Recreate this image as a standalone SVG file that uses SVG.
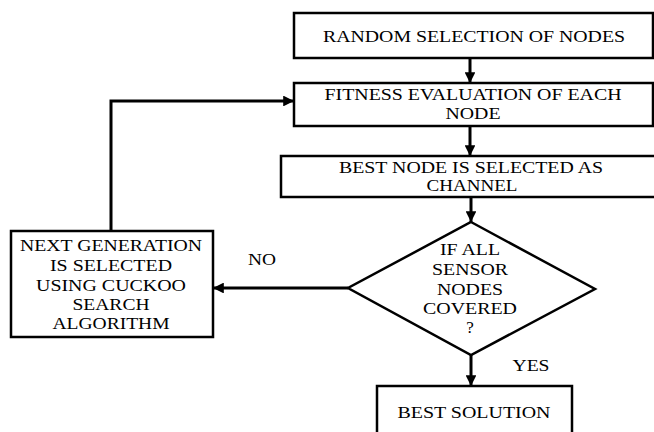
<svg xmlns="http://www.w3.org/2000/svg" width="654" height="432" viewBox="0 0 654 432">
<defs>
<marker id="ah" viewBox="0 0 10 10" refX="10" refY="5" markerWidth="3.6" markerHeight="3.6" orient="auto" markerUnits="strokeWidth">
<path d="M0,0 L10,5 L0,10 z" fill="#000"/>
</marker>
</defs>
<style>
.box{fill:#fff;stroke:#000;stroke-width:2.5}
.t{font-family:'Liberation Serif','Times New Roman',serif;font-size:17px;fill:#000;text-anchor:middle}
.c{fill:none;stroke:#000;stroke-width:3;marker-end:url(#ah)}
</style>
<rect width="654" height="432" fill="#fff"/>
<g id="connectors">
<path class="c" d="M470,58 V83"/>
<path class="c" d="M470,126 V156"/>
<path class="c" d="M471,197 V222"/>
<path class="c" d="M471,355 V386"/>
<path class="c" d="M348,288 H213"/>
<path class="c" d="M111,231 V101 H294"/>
</g>
<g id="n1">
<rect class="box" x="294" y="13" width="359" height="45"/>
<text class="t" x="474" y="42" textLength="302" lengthAdjust="spacingAndGlyphs">RANDOM SELECTION OF NODES</text>
</g>
<g id="n2">
<rect class="box" x="294" y="83" width="359" height="43"/>
<text class="t" x="473" y="100" textLength="297" lengthAdjust="spacingAndGlyphs">FITNESS EVALUATION OF EACH</text>
<text class="t" x="473" y="119" textLength="55" lengthAdjust="spacingAndGlyphs">NODE</text>
</g>
<g id="n3">
<rect class="box" x="281" y="156" width="380" height="41"/>
<text class="t" x="471" y="173" textLength="264" lengthAdjust="spacingAndGlyphs">BEST NODE IS SELECTED AS</text>
<text class="t" x="472" y="191" textLength="91" lengthAdjust="spacingAndGlyphs">CHANNEL</text>
</g>
<g id="n4">
<polygon class="box" points="471,222 595,289 471,355 348,288"/>
<text class="t" x="470" y="255" textLength="60" lengthAdjust="spacingAndGlyphs">IF ALL</text>
<text class="t" x="470" y="275" textLength="76" lengthAdjust="spacingAndGlyphs">SENSOR</text>
<text class="t" x="470" y="295" textLength="66" lengthAdjust="spacingAndGlyphs">NODES</text>
<text class="t" x="470" y="314" textLength="94" lengthAdjust="spacingAndGlyphs">COVERED</text>
<text class="t" x="470" y="333">?</text>
</g>
<g id="n5">
<rect class="box" x="11" y="231" width="202" height="106"/>
<text class="t" x="111" y="251" textLength="182" lengthAdjust="spacingAndGlyphs">NEXT GENERATION</text>
<text class="t" x="111" y="271" textLength="122" lengthAdjust="spacingAndGlyphs">IS SELECTED</text>
<text class="t" x="111" y="291" textLength="150" lengthAdjust="spacingAndGlyphs">USING CUCKOO</text>
<text class="t" x="111" y="310" textLength="77" lengthAdjust="spacingAndGlyphs">SEARCH</text>
<text class="t" x="111" y="329" textLength="117" lengthAdjust="spacingAndGlyphs">ALGORITHM</text>
</g>
<g id="n6">
<rect class="box" x="377" y="386" width="195" height="60"/>
<text class="t" x="474" y="418" textLength="153" lengthAdjust="spacingAndGlyphs">BEST SOLUTION</text>
</g>
<g id="labels">
<text class="t" x="262" y="265" textLength="28" lengthAdjust="spacingAndGlyphs">NO</text>
<text class="t" x="531" y="371" textLength="37" lengthAdjust="spacingAndGlyphs">YES</text>
</g>
</svg>
